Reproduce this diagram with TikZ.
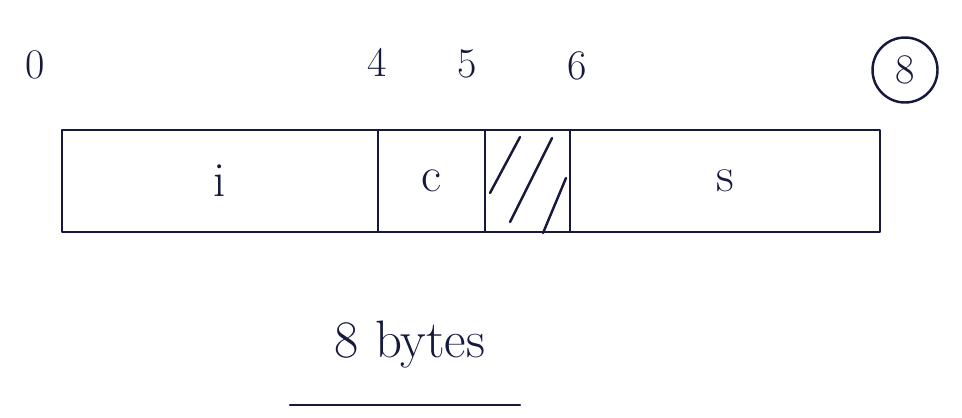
\documentclass[tikz,border=0pt]{standalone}
\usetikzlibrary{positioning}
\definecolor{ink}{RGB}{22,24,62}
\tikzset{
  field/.style={draw=ink, line width=1.5pt, minimum height=2.04cm, inner sep=0pt, outer sep=0pt, text=ink, font=\fontsize{28}{32}\selectfont},
  offset/.style={text=ink, inner sep=0pt}
}
\begin{document}
\begin{tikzpicture}[x=0.02cm, y=-0.02cm, line join=round, line cap=round, font=\fontsize{24}{28}\selectfont]
	\useasboundingbox (0,0) rectangle (962,417);
	% fields of the struct
	\node[field, minimum width=6.32cm, anchor=north west] (fi) at (62,130) {i};
	\node[field, minimum width=2.14cm, right=0pt of fi] (fc) {c};
	\node[field, minimum width=1.70cm, right=0pt of fc] (fp) {};
	\node[field, minimum width=6.20cm, right=0pt of fp] (fs) {s};
	% padding
	\draw[ink, line width=1.4pt] (490,193) -- (520,137);
	\draw[ink, line width=1.4pt] (510,222) -- (552,138);
	\draw[ink, line width=1.4pt] (543,233) -- (566,178);
	% offsets
	\node[offset] (o0) at (35,65) {0};
	\node[offset] (o4) at (377,62) {4};
	\node[offset] (o5) at (467,64) {5};
	\node[offset] (o6) at (577,66) {6};
	\node[offset, draw=ink, line width=1.4pt, circle, minimum size=1.3cm] (o8) at (905,70) {8};
	% size
	\node[text=ink, font=\fontsize{30}{34}\selectfont] (total) at (410,345) {8 bytes};
	\coordinate (u1) at (290,405);
	\coordinate (u2) at (520,405);
	\draw[ink, line width=1.4pt] (u1) -- (u2);
\end{tikzpicture}
\end{document}
